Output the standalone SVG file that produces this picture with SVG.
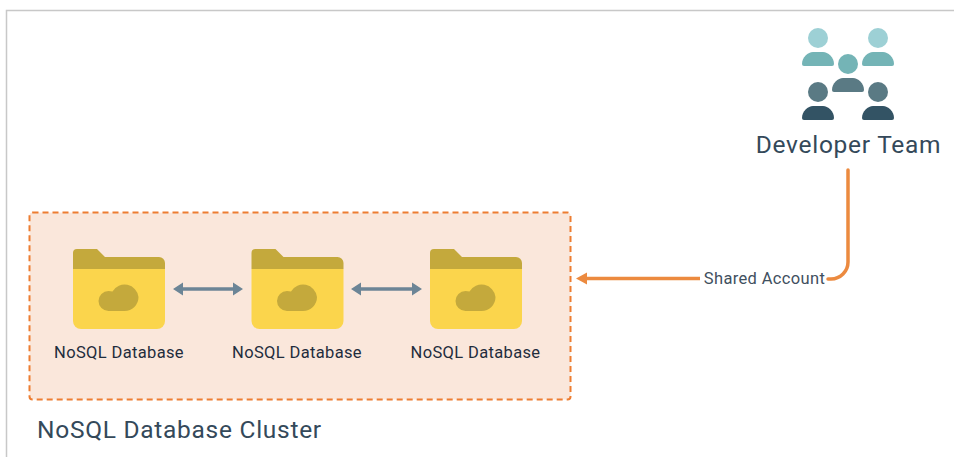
<svg xmlns="http://www.w3.org/2000/svg" width="954" height="457" viewBox="0 0 954 457">
<style>
text{font-family:"Roboto","Liberation Sans",sans-serif}
.db{font-size:16.500px;fill:#1f2d3d;text-anchor:middle;letter-spacing:.35px}
.top{fill:#c4a93c}.body{fill:#fbd54c}
.p1{fill:#9dd0d5}.p2{fill:#74b4b6}.p3{fill:#5a7a84}.p4{fill:#335364}
.big{font-size:24.500px;fill:#34495a;letter-spacing:.72px}
</style>
<defs>
<g id="folder">
<path class="body" d="M0 20H92V72a8 8 0 0 1-8 8H8a8 8 0 0 1-8-8Z"/>
<path class="top" d="M0 20V4a4 4 0 0 1 4-4H24L32 8H86a6 6 0 0 1 6 6V20Z"/>
<path class="top" d="M35.500 62a10 10 0 0 1 0-20q2 0 4 .5a14 14 0 0 1 26 5.500a14 14 0 0 1-14 14Z"/>
</g>
<path id="person" d="M-16 12C-16 5-10 0-5 0H5C10 0 16 5 16 12Q16 14 14 14H-14Q-16 14-16 12Z"/>
<marker id="o" markerUnits="userSpaceOnUse" markerWidth="12" markerHeight="14" refX="1" refY="7" orient="auto"><path d="M0 1L11 7L0 13Z" fill="#ec8a3f"/></marker>
</defs>
<g id="frame" fill="none" stroke="#c8c8c8" stroke-width="1.500"><path d="M954 10.500H6.500V457"/></g>
<g id="cluster">
<rect x="29.500" y="212.500" width="541" height="187" rx="3" fill="#fae7db" stroke="#ed7d31" stroke-width="2" stroke-dasharray="6 4"/>
<text class="big" x="37" y="438">NoSQL Database Cluster</text>
</g>
<g id="db1"><use href="#folder" x="73" y="249"/><text class="db" x="119" y="358">NoSQL Database</text></g>
<g id="db2"><use href="#folder" x="251.500" y="249"/><text class="db" x="297" y="358">NoSQL Database</text></g>
<g id="db3"><use href="#folder" x="430" y="249"/><text class="db" x="475.500" y="358">NoSQL Database</text></g>
<g id="team">
<circle class="p1" cx="818" cy="38" r="10"/><use href="#person" class="p2" x="818" y="52"/>
<circle class="p1" cx="878" cy="38" r="10"/><use href="#person" class="p2" x="878" y="52"/>
<circle class="p2" cx="848" cy="64" r="10"/><use href="#person" class="p3" x="848" y="78"/>
<circle class="p3" cx="818" cy="92" r="10"/><use href="#person" class="p4" x="818" y="106"/>
<circle class="p3" cx="878" cy="92" r="10"/><use href="#person" class="p4" x="878" y="106"/>
<text class="big" x="848.500" y="153" text-anchor="middle">Developer Team</text>
</g>
<g id="connectors" fill="none">
<path d="M848 170V262a17 17 0 0 1-17 17H828" stroke="#ec8a3f" stroke-width="3.500" stroke-linecap="round"/>
<path d="M700 278.500H586" stroke="#ec8a3f" stroke-width="3.500" marker-end="url(#o)"/>
<path d="M180 289H236" stroke="#6c8596" stroke-width="3.500"/>
<path d="M173 289L183 282.500V295.500Z M243 289L233 282.500V295.500Z" fill="#6c8596"/>
<path d="M358 289H415" stroke="#6c8596" stroke-width="3.500"/>
<path d="M351 289L361 282.500V295.500Z M422 289L412 282.500V295.500Z" fill="#6c8596"/>
<text x="764.500" y="284" font-size="16.500" letter-spacing=".35" fill="#3f5060" text-anchor="middle">Shared Account</text>
</g>
</svg>
